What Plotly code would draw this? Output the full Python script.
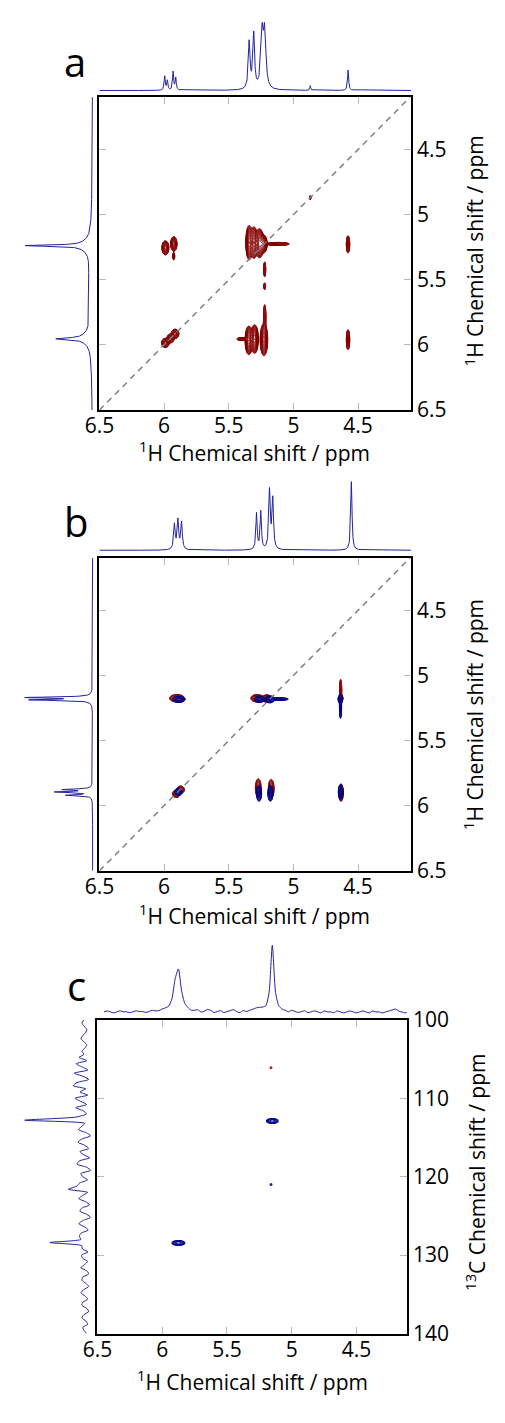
import numpy as np
import plotly.graph_objects as go

FW, FH = 505, 1423

# ---------------- tick labels ----------------
h_tickvals = [6.5, 6.0, 5.5, 5.0, 4.5]
h_ticktext = ["6.5", "6", "5.5", "5", "4.5"]
hy_tickvals = [4.5, 5.0, 5.5, 6.0, 6.5]
hy_ticktext = ["4.5", "5", "5.5", "6", "6.5"]
c_tickvals = [100, 110, 120, 130, 140]
c_ticktext = ["100", "110", "120", "130", "140"]

# ---------------- 1D spectra (peak ppm, height, half width) ----------------
a_top_pos = [5.995, 5.975, 5.930, 5.910, 5.342, 5.307, 5.242, 5.222, 4.870, 4.577]
a_top_hgt = [15, 11, 20, 14, 52, 61, 69, 69, 5, 21]
a_top_wid = [0.005, 0.005, 0.005, 0.005, 0.008, 0.008, 0.011, 0.011, 0.004, 0.005]

a_left_pos = [5.238, 5.238, 5.953, 5.950, 5.600]
a_left_amp = [58, 10, 27, 9, 4]
a_left_wid = [0.006, 0.050, 0.008, 0.050, 0.350]

b_top_pos = [5.920, 5.893, 5.865, 5.285, 5.252, 5.185, 5.160, 4.552]
b_top_hgt = [28, 33, 30, 39, 41, 64, 56, 70]
b_top_wid = [0.007, 0.007, 0.007, 0.006, 0.006, 0.007, 0.007, 0.006]

b_left_pos = [5.170, 5.188, 5.876, 5.895, 5.920]
b_left_hgt = [70, 66, 32, 40, 28]
b_left_wid = [0.005, 0.005, 0.005, 0.005, 0.005]

c_top_pos = [5.900, 5.875, 5.150]
c_top_amp = [15, 38, 68]
c_top_wid = [0.020, 0.025, 0.016]
c_top_ppm = [round(6.45 - 0.025 * i, 3) for i in range(95)]
c_top_noise = [0, 1, 0, -1, 0, 1, 0, 0, -1, 0, 1, 0, 0, -1, 0, 1, 0, 0, 1, 1,
               0, 0, 0, 0, 0, 0, 0,
               -1, 0, 1, -1, 0, 2, 1, -1, 0, 1, -1, 0, 1, 2, 0, -1, 1, 0, 1,
               2, 3, 3, 2,
               0, 0, 0, 0, 0, 0,
               0, -1, 1, 0, -1, 0, 1, -1, 0, 1, 0, -1, 1, 0, 0, -1, 1, 0, -1, 0,
               1, 0, -1, 0, 1, 0, -1, 1, 0, 0, -1, 0, 1, 2, 3, 1, 0, -1, 0]

c_left_pos = [112.8, 121.6, 128.4]
c_left_amp = [62, 14, 36]
c_left_wid = [0.12, 0.12, 0.18]
c_left_ppm = [round(100 + 0.4 * i, 2) for i in range(101)]
c_left_noise = [1, 3, 1, -2, -1, 2, 4, 1, -2, 0, 3, 1,
                6, -2, 9, 3, -3, 11, 2, -4, 8, 12, -1, 5, -3, 10, 4, -2, 9, 1, -3, 4,
                0,
                -5, 2, 6, -2, -6, 3, 7, 0, -4, 5, 1, -5, 6, 8, -2, -6, 4, 2, -3, 5, 7,
                3,
                -4, 2, 6, -1, -5, 3, 5, -2, -6, 2, 6, 0, -4, 3, 4, -2,
                0,
                -3, 1, -4, 3, 2, -3, 0, 4, -2, -4, 2, 3, -1, -4, 1, 4, 0, -3, 2, 3,
                -2, -4, 1, 3, -1, -3, 2, 1, -2]

# ---------------- 2D cross peaks (x ppm, y ppm, amp, sx, sy) ----------------
a_fx = [5.990, 5.925, 5.925, 5.342, 5.305, 5.262, 5.230, 5.120, 5.222, 5.222, 4.578,
        5.990, 5.950, 5.915, 5.345, 5.300, 5.228, 5.390, 5.222, 4.578, 4.870]
a_fy = [5.255, 5.225, 5.320, 5.215, 5.215, 5.220, 5.225, 5.225, 5.420, 5.550, 5.228,
        5.985, 5.950, 5.915, 5.965, 5.955, 5.960, 5.955, 5.780, 5.960, 4.870]
a_fa = [1.0, 1.0, 0.4, 0.9, 0.9, 1.0, 1.0, 0.55, 0.5, 0.35, 0.9,
        1.0, 0.8, 1.0, 0.9, 0.9, 1.0, 0.5, 0.4, 0.9, 0.3]
a_fsx = [0.012, 0.011, 0.004, 0.012, 0.012, 0.014, 0.012, 0.045, 0.004, 0.004, 0.006,
         0.013, 0.013, 0.013, 0.013, 0.013, 0.013, 0.025, 0.005, 0.006, 0.003]
a_fsy = [0.024, 0.025, 0.015, 0.060, 0.055, 0.050, 0.030, 0.006, 0.030, 0.015, 0.030,
         0.016, 0.016, 0.016, 0.050, 0.050, 0.055, 0.006, 0.050, 0.035, 0.010]

b_pos_fx = [5.900, 5.280, 5.205, 4.635, 4.633, 5.905, 5.872, 5.272, 5.172, 4.632]
b_pos_fy = [5.176, 5.176, 5.178, 5.115, 5.175, 5.908, 5.878, 5.865, 5.870, 5.900]
b_pos_fa = [1.0, 1.0, 1.0, 0.8, 1.0, 1.0, 1.0, 1.0, 1.0, 1.0]
b_pos_fsx = [0.026, 0.022, 0.016, 0.004, 0.007, 0.013, 0.013, 0.010, 0.010, 0.008]
b_pos_fsy = [0.013, 0.013, 0.013, 0.040, 0.013, 0.013, 0.013, 0.032, 0.032, 0.030]

b_neg_fx = [5.885, 5.262, 5.182, 5.110, 4.636, 4.637, 5.890, 5.266, 5.178, 4.635]
b_neg_fy = [5.184, 5.184, 5.184, 5.182, 5.245, 5.182, 5.895, 5.905, 5.905, 5.895]
b_neg_fa = [0.9, 0.9, 1.0, 0.6, 0.8, 1.0, 1.0, 0.9, 0.9, 1.0]
b_neg_fsx = [0.022, 0.018, 0.016, 0.035, 0.004, 0.008, 0.013, 0.009, 0.009, 0.008]
b_neg_fsy = [0.011, 0.011, 0.012, 0.005, 0.040, 0.015, 0.013, 0.028, 0.028, 0.026]

c_neg_fx = [5.875, 5.150, 5.160]
c_neg_fy = [128.45, 112.90, 121.00]
c_neg_fa = [1.0, 1.0, 0.14]
c_neg_fsx = [0.022, 0.020, 0.006]
c_neg_fsy = [0.14, 0.14, 0.10]
c_pos_fx = [5.160]
c_pos_fy = [106.10]
c_pos_fa = [0.14]
c_pos_fsx = [0.006]
c_pos_fsy = [0.10]

BLUE = "#22229e"
RED = "#8b0f0f"
NAVY = "#0a0a8c"
FONT = "Open Sans"


def lor(x, pos, amp, wid):
    x = np.asarray(x, float)
    out = np.zeros_like(x)
    for p, a, w in zip(pos, amp, wid):
        out += a / (1.0 + ((x - p) / w) ** 2)
    return out


def amps_for_heights(pos, hgt, wid):
    pos = np.asarray(pos, float)
    M = 1.0 / (1.0 + ((pos[:, None] - pos[None, :]) / np.asarray(wid, float)[None, :]) ** 2)
    return np.clip(np.linalg.solve(M, np.asarray(hgt, float)), 0, None)


def band_grid(lo, hi, centers, half, fine, coarse):
    parts = [np.arange(lo, hi + coarse / 2, coarse)]
    for c in centers:
        parts.append(np.arange(c - half, c + half + fine / 2, fine))
    g = np.unique(np.round(np.concatenate(parts), 4))
    return g[(g >= lo) & (g <= hi)]


def field(gx, gy, fx, fy, fa, fsx, fsy):
    X, Y = np.meshgrid(gx, gy)
    z = np.zeros_like(X)
    for x0, y0, a, sx, sy in zip(fx, fy, fa, fsx, fsy):
        z += a * np.exp(-0.5 * ((X - x0) / sx) ** 2 - 0.5 * ((Y - y0) / sy) ** 2)
    return np.round(np.log10(np.maximum(z, 1e-3)), 2)


def PX(q):
    return min(max(q / FW, 0.0), 1.0)


def PY(q):
    return min(max(1 - q / FH, 0.0), 1.0)


def dom_x(q0, q1):
    return [PX(q0), PX(q1)]


def dom_y(q0, q1):
    return [PY(q1), PY(q0)]


fig = go.Figure()

# ---------- 1D traces ----------
hppm = np.round(np.arange(4.09, 6.5005, 0.0015), 4)

top_a = lor(hppm, a_top_pos, amps_for_heights(a_top_pos, a_top_hgt, a_top_wid), a_top_wid)
left_a = lor(hppm, a_left_pos, a_left_amp, a_left_wid)
top_b = lor(hppm, b_top_pos, amps_for_heights(b_top_pos, b_top_hgt, b_top_wid), b_top_wid)
left_b = lor(hppm, b_left_pos, amps_for_heights(b_left_pos, b_left_hgt, b_left_wid), b_left_wid)
top_c = lor(c_top_ppm, c_top_pos, c_top_amp, c_top_wid) + np.asarray(c_top_noise, float)
left_c = lor(c_left_ppm, c_left_pos, c_left_amp, c_left_wid) + np.asarray(c_left_noise, float)

line1 = dict(color=BLUE, width=1)
fig.add_trace(go.Scatter(x=hppm, y=top_a, xaxis="x2", yaxis="y2", mode="lines", line=line1))
fig.add_trace(go.Scatter(x=left_a, y=hppm, xaxis="x3", yaxis="y3", mode="lines", line=line1))
fig.add_trace(go.Scatter(x=hppm, y=top_b, xaxis="x5", yaxis="y5", mode="lines", line=line1))
fig.add_trace(go.Scatter(x=left_b, y=hppm, xaxis="x6", yaxis="y6", mode="lines", line=line1))
fig.add_trace(go.Scatter(x=c_top_ppm, y=top_c, xaxis="x8", yaxis="y8", mode="lines",
                         line=dict(color=BLUE, width=1, shape="spline", smoothing=0.6)))
fig.add_trace(go.Scatter(x=left_c, y=c_left_ppm, xaxis="x9", yaxis="y9", mode="lines",
                         line=dict(color=BLUE, width=1, shape="spline", smoothing=0.6)))

# ---------- diagonals ----------
diag = [6.5, 4.1]
for xa, ya in (("x", "y"), ("x4", "y4")):
    fig.add_trace(go.Scatter(x=diag, y=diag, xaxis=xa, yaxis=ya, mode="lines",
                             line=dict(color="#7a7a7a", width=1.4, dash="6px,5px")))


# ---------- contours ----------
def contour(gx, gy, z, xa, ya, color, start, size, width=1.0):
    return go.Contour(x=gx, y=gy, z=z, xaxis=xa, yaxis=ya, showscale=False,
                      hoverinfo="skip",
                      contours=dict(coloring="lines", start=start, end=0.05, size=size),
                      line=dict(width=width, smoothing=1),
                      colorscale=[[0, color], [1, color]])


gxa = band_grid(4.1, 6.5, sorted(set(a_fx)), 0.09, 0.0035, 0.03)
gya = band_grid(4.1, 6.5, sorted(set(a_fy)), 0.11, 0.0035, 0.03)
fig.add_trace(contour(gxa, gya, field(gxa, gya, a_fx, a_fy, a_fa, a_fsx, a_fsy),
                      "x", "y", RED, -1.1, 0.07))

gxb = band_grid(4.1, 6.5, sorted(set(b_pos_fx + b_neg_fx)), 0.09, 0.003, 0.03)
gyb = band_grid(4.1, 6.5, sorted(set(b_pos_fy + b_neg_fy)), 0.10, 0.003, 0.03)
fig.add_trace(contour(gxb, gyb, field(gxb, gyb, b_pos_fx, b_pos_fy, b_pos_fa, b_pos_fsx, b_pos_fsy),
                      "x4", "y4", RED, -1.1, 0.11))
fig.add_trace(contour(gxb, gyb, field(gxb, gyb, b_neg_fx, b_neg_fy, b_neg_fa, b_neg_fsx, b_neg_fsy),
                      "x4", "y4", NAVY, -1.1, 0.11))

gxc = band_grid(4.1, 6.5, sorted(set(c_neg_fx + c_pos_fx)), 0.08, 0.003, 0.03)
gyc = band_grid(100, 140, sorted(set(c_neg_fy + c_pos_fy)), 0.8, 0.02, 0.5)
fig.add_trace(contour(gxc, gyc, field(gxc, gyc, c_pos_fx, c_pos_fy, c_pos_fa, c_pos_fsx, c_pos_fsy),
                      "x7", "y7", "#c01010", -1.1, 0.3, 1.2))
fig.add_trace(contour(gxc, gyc, field(gxc, gyc, c_neg_fx, c_neg_fy, c_neg_fa, c_neg_fsx, c_neg_fsy),
                      "x7", "y7", NAVY, -1.1, 0.3, 1.2))

# ---------- axes ----------
tickfont = dict(family=FONT, size=21, color="black")


def main_x(q0, q1, anchor, rng):
    return dict(domain=dom_x(q0, q1), anchor=anchor, range=rng, showline=True, mirror="ticks",
                linecolor="black", linewidth=1.6, ticks="inside", ticklen=7, tickwidth=1.2,
                tickcolor="#b8b8b8", showgrid=False, zeroline=False, tickmode="array",
                tickvals=h_tickvals, ticktext=h_ticktext, tickfont=tickfont,
                ticklabelstandoff=-4)


def main_y(q0, q1, anchor, rng, tv, tt):
    return dict(domain=dom_y(q0, q1), anchor=anchor, range=rng, side="right", showline=True,
                mirror="ticks", linecolor="black", linewidth=1.6, ticks="inside", ticklen=7,
                tickwidth=1.2, tickcolor="#b8b8b8", showgrid=False, zeroline=False,
                tickmode="array", tickvals=tv, ticktext=tt, tickfont=tickfont)


def hidden(dom, anchor, rng):
    return dict(domain=dom, anchor=anchor, range=rng, visible=False, showgrid=False, zeroline=False)


hr = [6.5, 4.092]
layout = dict(
    width=FW, height=FH, margin=dict(l=0, r=0, t=0, b=0),
    paper_bgcolor="white", plot_bgcolor="rgba(0,0,0,0)", showlegend=False,
    # panel a
    xaxis=main_x(87, 408, "y", hr),
    yaxis=main_y(84, 403, "x", [6.5, 4.1], hy_tickvals, hy_ticktext),
    xaxis2=hidden(dom_x(87, 408), "y2", hr),
    yaxis2=hidden(dom_y(0, 80), "x2", [-3, 77]),
    xaxis3=hidden(dom_x(0, 82), "y3", [80, -2]),
    yaxis3=hidden(dom_y(84, 403), "x3", [6.5, 4.1]),
    # panel b
    xaxis4=main_x(87, 408, "y4", hr),
    yaxis4=main_y(554, 873, "x4", [6.5, 4.1], hy_tickvals, hy_ticktext),
    xaxis5=hidden(dom_x(87, 408), "y5", hr),
    yaxis5=hidden(dom_y(470, 550), "x5", [-4, 76]),
    xaxis6=hidden(dom_x(0, 82), "y6", [80, -2]),
    yaxis6=hidden(dom_y(554, 873), "x6", [6.5, 4.1]),
    # panel c
    xaxis7=main_x(85, 404, "y7", [6.5, 4.11]),
    yaxis7=main_y(1025, 1345, "x7", [140, 100], c_tickvals, c_ticktext),
    xaxis8=hidden(dom_x(85, 404), "y8", [6.5, 4.11]),
    yaxis8=hidden(dom_y(937, 1021), "x8", [-4, 80]),
    xaxis9=hidden(dom_x(0, 82), "y9", [72, -10]),
    yaxis9=hidden(dom_y(1025, 1345), "x9", [140, 100]),
)
fig.update_layout(**layout)


def ann(text, qx, qy, size, angle=0):
    return dict(text=text, x=PX(qx), y=PY(qy), xref="paper", yref="paper",
                showarrow=False, xanchor="center", yanchor="middle", textangle=angle,
                font=dict(family=FONT, size=size, color="black"))


htitle = "<sup>1</sup>H Chemical shift / ppm"
ctitle = "<sup>13</sup>C Chemical shift / ppm"
annotations = [
    ann("a", 62, 47, 40),
    ann("b", 63, 517, 40),
    ann("c", 63, 990, 40),
    ann(htitle, 247, 445, 21),
    ann(htitle, 247, 918, 21),
    ann(htitle, 245, 1393, 21),
    ann(htitle, 473, 240, 21, angle=-90),
    ann(htitle, 473, 713, 21, angle=-90),
    ann(ctitle, 475, 1180, 21, angle=-90),
]
fig.update_layout(annotations=annotations)

fig.write_html("out.html")
